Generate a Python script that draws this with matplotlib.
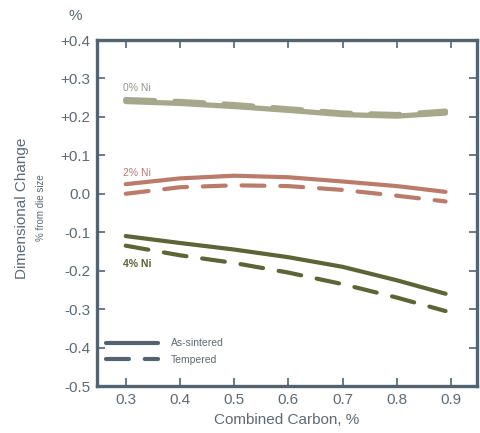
import matplotlib.pyplot as plt
from matplotlib.lines import Line2D

plt.rcParams['font.family'] = ['Liberation Sans', 'DejaVu Sans']

carbon = [0.3, 0.4, 0.5, 0.6, 0.7, 0.8, 0.89]

ni0_sintered = [0.240, 0.235, 0.227, 0.217, 0.206, 0.202, 0.210]
ni0_tempered = [0.245, 0.240, 0.232, 0.221, 0.210, 0.206, 0.215]
ni2_sintered = [0.025, 0.040, 0.047, 0.043, 0.032, 0.020, 0.005]
ni2_tempered = [0.000, 0.017, 0.022, 0.020, 0.010, -0.005, -0.020]
ni4_sintered = [-0.110, -0.128, -0.145, -0.165, -0.190, -0.225, -0.260]
ni4_tempered = [-0.135, -0.160, -0.180, -0.205, -0.235, -0.270, -0.305]

y_ticks = [0.4, 0.3, 0.2, 0.1, 0.0, -0.1, -0.2, -0.3, -0.4, -0.5]
y_labels = ['+0.4', '+0.3', '+0.2', '+0.1', '0.0', '-0.1', '-0.2', '-0.3', '-0.4', '-0.5']
x_ticks = [0.3, 0.4, 0.5, 0.6, 0.7, 0.8, 0.9]

c0 = '#a7a78c'
c2 = '#bb7b6b'
c4 = '#5b6535'
axc = '#536470'
txt = '#5d6a74'

fig = plt.figure(figsize=(4.8, 4.33), dpi=100)
ax = fig.add_axes([97/480, 1 - 386/433, 380/480, 346/433])

dash = (0, (5.5, 3.8))
for s, t, c, lw in [(ni0_sintered, ni0_tempered, c0, 3.8),
                    (ni2_sintered, ni2_tempered, c2, 3),
                    (ni4_sintered, ni4_tempered, c4, 3)]:
    ax.plot(carbon, s, color=c, lw=lw, solid_capstyle='round')
    ax.plot(carbon, t, color=c, lw=lw, linestyle=dash, dash_capstyle='round')

ax.text(0.295, 0.275, '0% Ni', color='#939384', fontsize=7.5, ha='left', va='center')
ax.text(0.295, 0.054, '2% Ni', color=c2, fontsize=7.5, ha='left', va='center')
ax.text(0.295, -0.183, '4% Ni', color=c4, fontsize=7.5, ha='left', va='center', fontweight='bold')

ax.set_xlim(0.247, 0.948)
ax.set_ylim(-0.5, 0.4)
ax.set_xticks(x_ticks)
ax.set_xticklabels([f'{v:.1f}' for v in x_ticks])
ax.set_yticks(y_ticks)
ax.set_yticklabels(y_labels)

for sp in ax.spines.values():
    sp.set_color(axc)
    sp.set_linewidth(2.4)
ax.tick_params(direction='in', length=6, width=1.2, color=axc, labelcolor=txt,
               labelsize=11, top=True, right=True, pad=5)

ax.set_xlabel('Combined Carbon, %', color=txt, fontsize=11, labelpad=4)
fig.text(75/480, 1 - 16/433, '%', color=txt, fontsize=11, ha='center', va='center')
fig.text(22/480, 1 - 208/433, 'Dimensional Change', color=txt, fontsize=11,
         rotation=90, ha='center', va='center')
fig.text(41/480, 1 - 208/433, '% from die size', color=txt, fontsize=7,
         rotation=90, ha='center', va='center')

handles = [Line2D([], [], color=axc, lw=3, solid_capstyle='round'),
           Line2D([], [], color=axc, lw=3, linestyle=(0, (5.5, 3.8)), dash_capstyle='round')]
leg = ax.legend(handles, ['As-sintered', 'Tempered'], loc='lower left',
                bbox_to_anchor=(0.0, 0.035), frameon=False, fontsize=7.5,
                handlelength=5, labelspacing=0.6, handletextpad=1.2)
for t in leg.get_texts():
    t.set_color(txt)

fig.savefig('out.png', dpi=100, facecolor='white')
